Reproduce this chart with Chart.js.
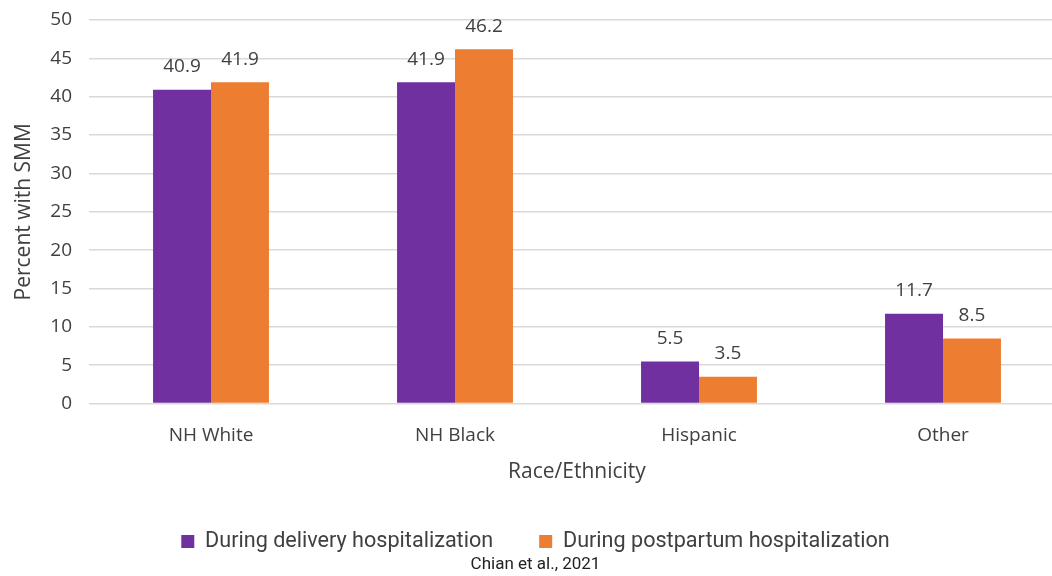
<!DOCTYPE html>
<html>
<head>
<meta charset="utf-8">
<script src="https://cdn.jsdelivr.net/npm/chart.js@4.4.1/dist/chart.umd.min.js"></script>
<style>
  html, body { margin: 0; padding: 0; background: #fff; overflow: hidden; }
  #wrap { width: 1072px; height: 576px; }
</style>
</head>
<body>
<div id="wrap"><canvas id="smm" width="1072" height="576"></canvas></div>
<script>
// ─── Data ────────────────────────────────────────────────────────────────────
const categories = ['NH White', 'NH Black', 'Hispanic', 'Other'];
const deliveryValues   = [40.9, 41.9, 5.5, 11.7];
const postpartumValues = [41.9, 46.2, 3.5, 8.5];
const seriesLabels = ['During delivery hospitalization', 'During postpartum hospitalization'];
const yTicks = { min: 0, max: 50, step: 5 };

const PURPLE = '#7030a0';
const ORANGE = '#ed7d31';
const TEXT   = '#404040';
const AXIS_FONT = '"Open Sans", "DejaVu Sans", sans-serif';

// value labels above each bar
const valueLabels = {
  id: 'valueLabels',
  afterDatasetsDraw(chart) {
    const { ctx } = chart;
    ctx.save();
    ctx.font = '19px ' + AXIS_FONT;
    ctx.fillStyle = TEXT;
    ctx.textAlign = 'center';
    ctx.textBaseline = 'middle';
    chart.data.datasets.forEach((ds, i) => {
      chart.getDatasetMeta(i).data.forEach((bar, j) => {
        ctx.fillText(ds.data[j].toFixed(1), bar.x, bar.y - 23);
      });
    });
    ctx.restore();
  }
};

new Chart(document.getElementById('smm'), {
  type: 'bar',
  data: {
    labels: categories,
    datasets: [
      { label: seriesLabels[0], data: deliveryValues, backgroundColor: PURPLE },
      { label: seriesLabels[1], data: postpartumValues, backgroundColor: ORANGE },
    ]
  },
  options: {
    responsive: false,
    animation: false,
    categoryPercentage: 0.475,
    barPercentage: 1,
    layout: { padding: { left: 6, right: 7, top: 20, bottom: 0 } },
    plugins: {
      legend: {
        position: 'bottom',
        maxHeight: 70,
        labels: {
          color: TEXT,
          font: { family: 'Roboto, sans-serif', size: 21.6 },
          boxWidth: 13,
          boxHeight: 13,
          padding: 46,
        }
      },
      title: {
        display: true,
        position: 'bottom',
        text: 'Chian et al., 2021',
        color: '#222',
        font: { family: 'Roboto, sans-serif', size: 17, weight: 'normal' },
        padding: { top: 0, bottom: 1 },
      },
      tooltip: { enabled: false },
    },
    scales: {
      x: {
        grid: { display: false, drawTicks: false },
        border: { display: false },
        ticks: { color: TEXT, font: { family: AXIS_FONT, size: 19 }, padding: 21 },
        title: {
          display: true, text: 'Race/Ethnicity', color: TEXT,
          font: { family: AXIS_FONT, size: 21 }, padding: { top: 0, bottom: 0 }
        },
        afterFit(scale) { scale.height = 81; },
      },
      y: {
        min: yTicks.min,
        max: yTicks.max,
        grid: { color: '#d9d9d9', lineWidth: 1.5, drawTicks: false },
        border: { display: false },
        ticks: { stepSize: yTicks.step, color: TEXT, font: { family: AXIS_FONT, size: 19 }, padding: 17 },
        title: {
          display: true, text: 'Percent with SMM', color: TEXT,
          font: { family: AXIS_FONT, size: 21 }, padding: { top: 5, bottom: 0 }
        },
        afterFit(scale) {
          scale.width = 83;
          scale.paddingTop = 0;
          scale.paddingBottom = 0;
        },
      }
    }
  },
  plugins: [valueLabels]
});
</script>
</body>
</html>
